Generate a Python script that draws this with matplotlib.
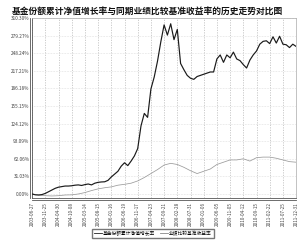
import matplotlib
matplotlib.use("Agg")
import matplotlib.pyplot as plt
import matplotlib.transforms as mtransforms
import numpy as np

plt.rcParams['font.family'] = ['Noto Sans CJK SC', 'DejaVu Sans']

title = "基金份额累计净值增长率与同期业绩比较基准收益率的历史走势对比图"

date_labels = ["2003-06-27", "2003-11-25", "2004-04-30", "2004-10-08", "2005-03-14",
               "2005-08-15", "2006-01-16", "2006-06-19", "2006-11-17", "2007-04-23",
               "2007-09-21", "2008-02-28", "2008-07-31", "2009-01-06", "2009-06-05",
               "2009-11-05", "2010-04-12", "2010-09-15", "2011-02-22", "2011-07-25",
               "2011-12-31"]

y_ticks = [0.00, 31.03, 62.06, 93.09, 124.12, 155.15, 186.18, 217.21, 248.24, 279.27, 310.30]

# 基金份额累计净值增长率 (%), 每 1/4 个刻度一个点
fund = [0, -1.5, -1.8, -1.0, 1, 4, 7, 10, 12, 13,
        14, 14, 14.5, 15.5, 16, 15, 16.5, 17.6, 16, 19,
        20.5, 21.2, 21.5, 24, 30, 35, 40, 49, 55, 50,
        58, 67, 80, 120, 142, 135, 185, 206, 234, 268,
        298, 280, 300, 272, 290, 230, 219, 209, 204, 202,
        207, 209, 211, 213, 215, 215, 238, 245, 232, 245,
        240, 250, 238, 235, 228, 222, 236, 245, 252, 264,
        269, 270, 265, 277, 266, 278, 264, 263, 258, 264,
        260]

# 业绩比较基准收益率 (%), 每 1/2 个刻度一个点
bench = [0, -1.8, -3, -3.5, -3, -1.8, -1.5, 0, 2.5, 6,
         9, 11, 12.5, 15.5, 17, 19, 23, 29, 36, 43,
         51, 54, 52, 47, 41, 36, 40, 44, 52, 56,
         60, 60, 62, 58, 64, 65, 65, 63, 60, 57,
         56]

n_ticks = len(date_labels)
x_fund = np.linspace(0, n_ticks - 1, len(fund))
x_bench = np.linspace(0, n_ticks - 1, len(bench))

fig = plt.figure(figsize=(3.0, 2.42), dpi=100)
ax = fig.add_axes([0.107, 0.182, 0.88, 0.744])

ax.plot(x_fund, fund, color='#1a1a1a', linewidth=0.85, zorder=3)
ax.plot(x_bench, bench, color='#9a9a9a', linewidth=0.55, zorder=2)

ax.set_xlim(0, n_ticks - 1)
ax.set_ylim(-7, 310.30)

ax.set_xticks(range(n_ticks))
ax.set_xticklabels(date_labels, rotation=90, fontsize=3.3, color='#444444')
ax.set_yticks(y_ticks)
ax.set_yticklabels([f"{v:.2f}%" for v in y_ticks], fontsize=3.4, color='#444444')
ax.tick_params(axis='x', length=0, pad=3)
ax.tick_params(axis='y', length=0, pad=2)

ax.grid(True, axis='x', color='#b0b0b0', linestyle=(0, (2, 2)), linewidth=0.45)
ax.grid(True, axis='y', color='#d0d0d0', linestyle=(0, (1, 1.5)), linewidth=0.45)

for side in ['top', 'right']:
    ax.spines[side].set_color('#aaaaaa')
    ax.spines[side].set_linewidth(0.5)
for side in ['left', 'bottom']:
    ax.spines[side].set_color('#555555')
    ax.spines[side].set_linewidth(0.6)

# 左侧和底部的双线
off_l = mtransforms.ScaledTranslation(-2 / 100, 0, fig.dpi_scale_trans)
off_b = mtransforms.ScaledTranslation(0, -2 / 100, fig.dpi_scale_trans)
ax.plot([0, 0], [0, 1], transform=ax.transAxes + off_l, color='#555555',
        linewidth=0.6, clip_on=False)
ax.plot([0, 1], [0, 0], transform=ax.transAxes + off_b, color='#555555',
        linewidth=0.6, clip_on=False)

fig.text(0.49, 0.955, title, ha='center', va='center', fontsize=6.3,
         fontweight='bold', color='#111111')

handles = [plt.Line2D([], [], color='#222222', linewidth=0.6),
           plt.Line2D([], [], color='#888888', linewidth=0.6)]
fig.legend(handles, ["基金份额累计净值增长率", "业绩比较基准收益率"],
           loc='center', bbox_to_anchor=(0.51, 0.036), ncol=2, fontsize=3.4,
           frameon=True, fancybox=False, edgecolor='#555555', handlelength=1.6,
           handletextpad=0.3, columnspacing=1.0, borderpad=0.4)

fig.savefig("out.png", dpi=100)
